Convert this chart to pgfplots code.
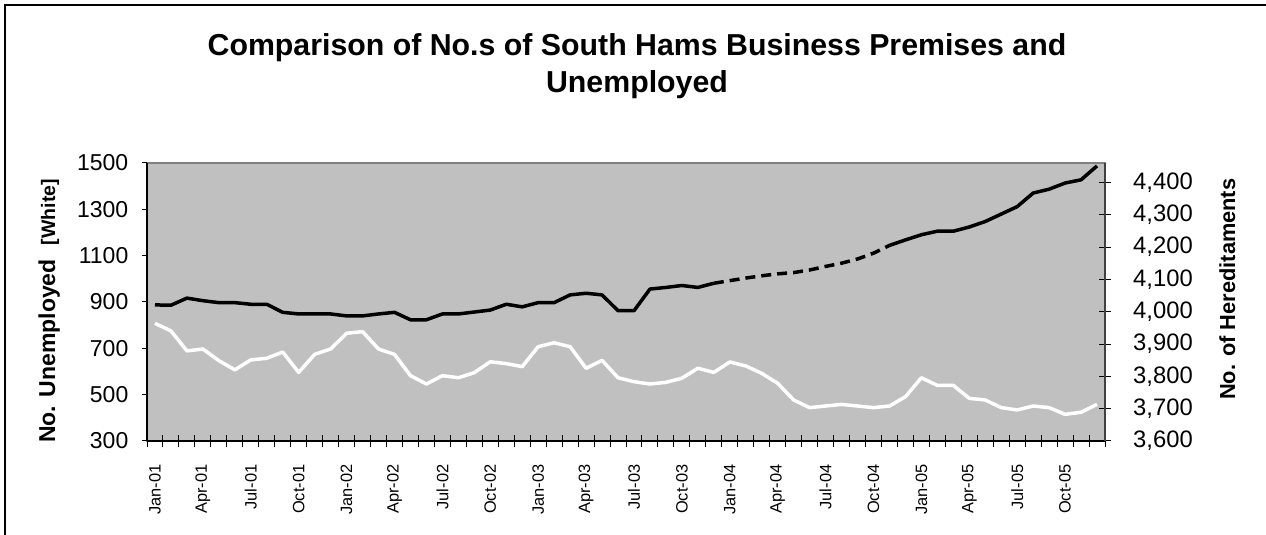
\documentclass[border=0pt]{standalone}
\usepackage{fontspec}
\setmainfont{Liberation Sans}
\usepackage{pgfplots}
\pgfplotsset{compat=1.18}
\definecolor{plotbg}{HTML}{C0C0C0}
\definecolor{framegray}{HTML}{808080}
\definecolor{rightaxis}{HTML}{404040}

\pgfplotstableread{
x y
0 808
1 775
2 689
3 697
4 647
5 607
6 650
7 657
8 684
9 596
10 674
11 697
12 765
13 772
14 697
15 674
16 582
17 546
18 582
19 573
20 595
21 642
22 634
23 621
24 707
25 724
26 707
27 614
28 648
29 573
30 556
31 546
32 553
33 571
34 614
35 596
36 641
37 624
38 592
39 549
40 477
41 444
42 451
43 458
44 451
45 444
46 451
47 491
48 573
49 540
50 540
51 484
52 477
53 444
54 434
55 451
56 444
57 415
58 424
59 458
}\unemployed

\pgfplotstableread{
x y
0 4021
1 4020
2 4042
3 4034
4 4028
5 4028
6 4023
7 4023
8 3998
9 3993
10 3993
11 3993
12 3987
13 3987
14 3993
15 3998
16 3975
17 3975
18 3993
19 3993
20 3999
21 4005
22 4023
23 4015
24 4028
25 4028
26 4052
27 4057
28 4052
29 4003
30 4003
31 4070
32 4075
33 4081
34 4075
35 4088
}\premisesA

\pgfplotstableread{
x y
35 4088
36 4096
37 4104
38 4111
39 4117
40 4121
41 4129
42 4140
43 4150
44 4163
45 4181
46 4205
}\premisesEst

\pgfplotstableread{
x y
46 4205
47 4222
48 4238
49 4249
50 4249
51 4262
52 4279
53 4302
54 4325
55 4367
56 4379
57 4398
58 4408
59 4451
}\premisesB

\begin{document}
\begin{tikzpicture}[x=1bp,y=1bp]
\useasboundingbox (0,0) rectangle (1266,535);
\draw[line width=2.5bp] (5,-20) -- (5,530) -- (1290,530);

\node[anchor=base, font=\bfseries\fontsize{30.3bp}{36bp}\selectfont] at (637,479) {Comparison of No.s of South Hams Business Premises and};
\node[anchor=base, font=\bfseries\fontsize{30.3bp}{36bp}\selectfont] at (637,442) {Unemployed};

\node[rotate=90, anchor=base west, inner sep=0pt] at (55,92) {\bfseries\fontsize{23bp}{26bp}\selectfont No. Unemployed\hspace{14bp}{\fontsize{19.5bp}{22bp}\selectfont [White]}};
\node[rotate=90, anchor=base west, inner sep=0pt] at (1235,135) {\bfseries\fontsize{21.8bp}{26bp}\selectfont No.\hspace{8bp}of Hereditaments};

\begin{axis}[
  at={(147bp,94bp)}, anchor=south west,
  scale only axis, width=958bp, height=278bp,
  xmin=-0.5, xmax=59.5, ymin=300, ymax=1500,
  axis background/.style={fill=plotbg, draw=framegray, line width=1.5bp},
  axis x line*=bottom, axis y line*=left,
  axis line style={black, line width=1.2bp},
  ytick={300,500,...,1500},
  xtick={0,3,...,57},
  xticklabels={Jan-01,Apr-01,Jul-01,Oct-01,Jan-02,Apr-02,Jul-02,Oct-02,Jan-03,Apr-03,Jul-03,Oct-03,Jan-04,Apr-04,Jul-04,Oct-04,Jan-05,Apr-05,Jul-05,Oct-05},
  minor xtick={-0.5,0.5,...,59.5},
  every major x tick/.append style={draw=none},
  xtick align=center, ytick align=outside,
  major tick length=5bp, minor tick length=12bp,
  every tick/.append style={black, line width=1bp},
  scaled y ticks=false,
  /pgf/number format/assume math mode=true,
  /pgf/number format/1000 sep={},
  yticklabel style={font=\fontsize{23bp}{26bp}\selectfont, inner sep=0pt, anchor=east, xshift=-13.5bp},
  xticklabel style={font=\fontsize{16.4bp}{18bp}\selectfont, inner sep=0pt, yshift=-21bp, rotate=90, anchor=east},
]
\addplot[white, line width=3.5bp, line join=round] table[x=x,y=y] {\unemployed};
\end{axis}

\begin{axis}[
  at={(147bp,94bp)}, anchor=south west,
  scale only axis, width=958bp, height=278bp,
  xmin=-0.5, xmax=59.5, ymin=3600, ymax=4460,
  axis x line=none, axis y line*=right,
  axis line style={rightaxis, line width=1.2bp},
  ytick={3600,3700,...,4400},
  tick align=center, major tick length=12bp,
  every tick/.append style={black, line width=1bp},
  scaled y ticks=false,
  /pgf/number format/assume math mode=true,
  /pgf/number format/1000 sep={,},
  yticklabel style={font=\fontsize{23.8bp}{26bp}\selectfont, inner sep=0pt, anchor=west, xshift=22bp},
  clip=false,
]
\addplot[black, line width=3.5bp, line join=round] table[x=x,y=y] {\premisesA};
\addplot[black, line width=3.5bp, dash pattern=on 10bp off 6bp] table[x=x,y=y] {\premisesEst};
\addplot[black, line width=3.5bp, line join=round] table[x=x,y=y] {\premisesB};
\end{axis}
\end{tikzpicture}
\end{document}
